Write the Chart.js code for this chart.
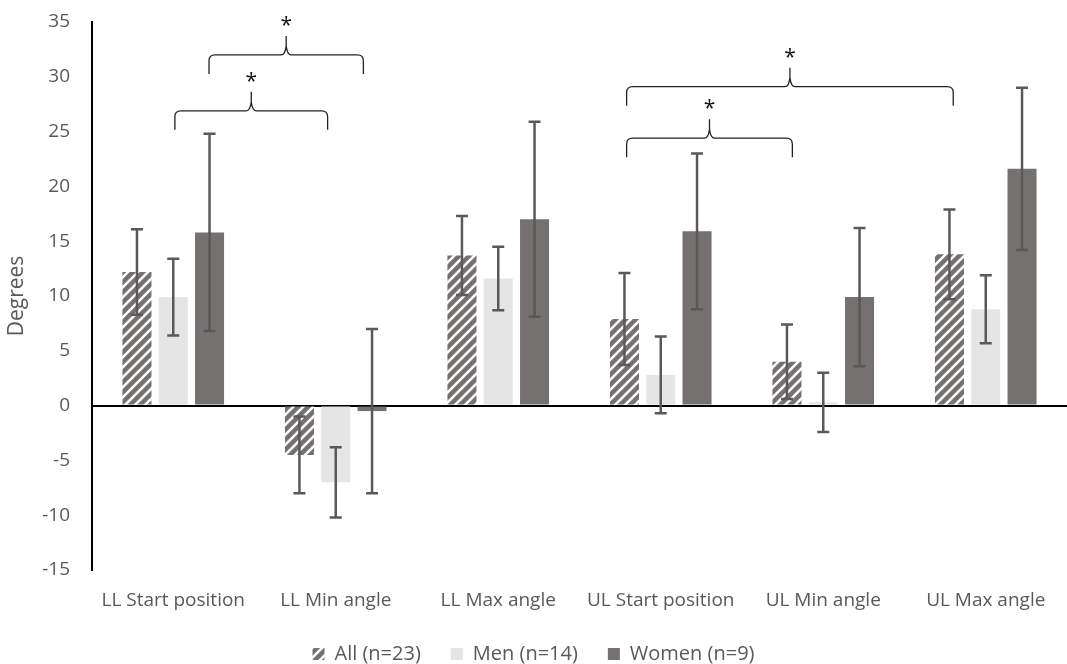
<!DOCTYPE html>
<html>
<head>
<meta charset="utf-8">
<script src="https://cdn.jsdelivr.net/npm/chart.js@4"></script>
<style>
  html, body { margin: 0; padding: 0; background: #fff; }
  #wrap { width: 1067px; height: 664px; }
</style>
</head>
<body>
<div id="wrap"><canvas id="angleChart" width="1067" height="664"></canvas></div>
<script>
// Chart data
const categories = ['LL Start position', 'LL Min angle', 'LL Max angle', 'UL Start position', 'UL Min angle', 'UL Max angle'];
const seriesNames = ['All (n=23)', 'Men (n=14)', 'Women (n=9)'];
const allMean = [12.2, -4.5, 13.7, 7.9, 4.0, 13.8];
const allSD = [3.9, 3.5, 3.6, 4.2, 3.4, 4.1];
const menMean = [9.9, -7.0, 11.6, 2.8, 0.3, 8.8];
const menSD = [3.5, 3.2, 2.9, 3.5, 2.7, 3.1];
const womenMean = [15.8, -0.5, 17.0, 15.9, 9.9, 21.6];
const womenSD = [9.0, 7.5, 8.9, 7.1, 6.3, 7.4];
const yTicks = [35, 30, 25, 20, 15, 10, 5, 0, -5, -10, -15];

// significance brackets (x in category units, y in degrees)
const bracketFrom = [0.01, 0.22, 2.79, 2.79];
const bracketTo = [0.95, 1.17, 3.81, 4.80];
const bracketLevel = [26.9, 32.0, 24.4, 29.1];
const bracketLabel = ['*', '*', '*', '*'];

const FONT = '"Open Sans", sans-serif';
const TEXT = '#595959';

// striped fill for "All"
function makeStripes() {
    const s = 10;
    const c = document.createElement('canvas');
    c.width = s; c.height = s;
    const g = c.getContext('2d');
    g.fillStyle = '#767171';
    g.fillRect(0, 0, s, s);
    g.strokeStyle = '#ffffff';
    g.lineWidth = 2.6;
    g.beginPath();
    g.moveTo(-2, s + 2); g.lineTo(s + 2, -2);
    g.moveTo(-2, 2); g.lineTo(2, -2);
    g.moveTo(s - 2, s + 2); g.lineTo(s + 2, s - 2);
    g.stroke();
    return g.createPattern(c, 'repeat');
}
const stripes = makeStripes();

// error bars drawn on top of the bars
const errorBars = {
    id: 'errorBars',
    afterDatasetsDraw(chart) {
        const ctx = chart.ctx;
        const y = chart.scales.y;
        ctx.save();
        ctx.strokeStyle = '#595959';
        ctx.lineWidth = 2.5;
        chart.data.datasets.forEach((ds, di) => {
            const meta = chart.getDatasetMeta(di);
            meta.data.forEach((bar, i) => {
                const m = ds.data[i], sd = ds.sd[i];
                const top = y.getPixelForValue(m + sd);
                const bot = y.getPixelForValue(m - sd);
                ctx.beginPath();
                ctx.moveTo(bar.x, top); ctx.lineTo(bar.x, bot);
                ctx.moveTo(bar.x - 6, top); ctx.lineTo(bar.x + 6, top);
                ctx.moveTo(bar.x - 6, bot); ctx.lineTo(bar.x + 6, bot);
                ctx.stroke();
            });
        });
        ctx.restore();
    }
};

// curly brackets with asterisks
const brackets = {
    id: 'brackets',
    afterDraw(chart) {
        const ctx = chart.ctx;
        const xs = chart.scales.x, ys = chart.scales.y;
        ctx.save();
        ctx.strokeStyle = '#222';
        ctx.lineWidth = 1.3;
        bracketFrom.forEach((f, i) => {
            const x1 = xs.getPixelForValue(f);
            const x2 = xs.getPixelForValue(bracketTo[i]);
            const xm = (x1 + x2) / 2;
            const yl = ys.getPixelForValue(bracketLevel[i]);
            ctx.beginPath();
            ctx.moveTo(x1, yl + 19);
            ctx.lineTo(x1, yl + 6);
            ctx.quadraticCurveTo(x1, yl, x1 + 6, yl);
            ctx.lineTo(xm - 5, yl);
            ctx.quadraticCurveTo(xm - 1, yl, xm, yl - 9);
            ctx.lineTo(xm, yl - 19);
            ctx.moveTo(xm, yl - 9);
            ctx.quadraticCurveTo(xm + 1, yl, xm + 5, yl);
            ctx.lineTo(x2 - 6, yl);
            ctx.quadraticCurveTo(x2, yl, x2, yl + 6);
            ctx.lineTo(x2, yl + 19);
            ctx.stroke();
            ctx.fillStyle = '#111';
            ctx.font = '21px ' + FONT;
            ctx.textAlign = 'center';
            ctx.textBaseline = 'middle';
            ctx.fillText(bracketLabel[i], xm, yl - 29);
        });
        ctx.restore();
    }
};

const ctx = document.getElementById('angleChart').getContext('2d');

const angleChart = new Chart(ctx, {
    type: 'bar',
    data: {
        labels: categories,
        datasets: [
            { label: seriesNames[0], data: allMean, sd: allSD, backgroundColor: stripes },
            { label: seriesNames[1], data: menMean, sd: menSD, backgroundColor: '#e6e5e5' },
            { label: seriesNames[2], data: womenMean, sd: womenSD, backgroundColor: '#767171' }
        ]
    },
    options: {
        responsive: false,
        animation: false,
        layout: { padding: { top: 22, left: 0, right: 0, bottom: 0 } },
        datasets: {
            bar: { categoryPercentage: 0.67, barPercentage: 0.8 }
        },
        scales: {
            x: {
                grid: { display: false },
                border: { display: false },
                ticks: { color: TEXT, font: { family: FONT, size: 19 }, padding: 11, maxRotation: 0 },
                afterFit: (scale) => { scale.height = 44; }
            },
            y: {
                min: -15,
                max: 35,
                afterBuildTicks: (scale) => { scale.ticks = yTicks.map(v => ({ value: v })); },
                ticks: { color: TEXT, font: { family: FONT, size: 19 }, padding: 0 },
                grid: {
                    drawTicks: true,
                    tickLength: 22,
                    tickColor: 'rgba(0,0,0,0)',
                    color: (c) => (c.tick && c.tick.value === 0 ? '#000' : 'rgba(0,0,0,0)'),
                    lineWidth: 2
                },
                border: { color: '#000', width: 2 },
                title: { display: true, text: 'Degrees', color: TEXT, font: { family: FONT, size: 21 }, padding: 4 },
                afterFit: (scale) => { scale.width = 92; }
            }
        },
        plugins: {
            legend: {
                position: 'bottom',
                maxHeight: 50,
                labels: { color: TEXT, font: { family: FONT, size: 20 }, boxWidth: 12, boxHeight: 12, padding: 30 }
            },
            tooltip: { enabled: false }
        }
    },
    plugins: [errorBars, brackets]
});
</script>
</body>
</html>
